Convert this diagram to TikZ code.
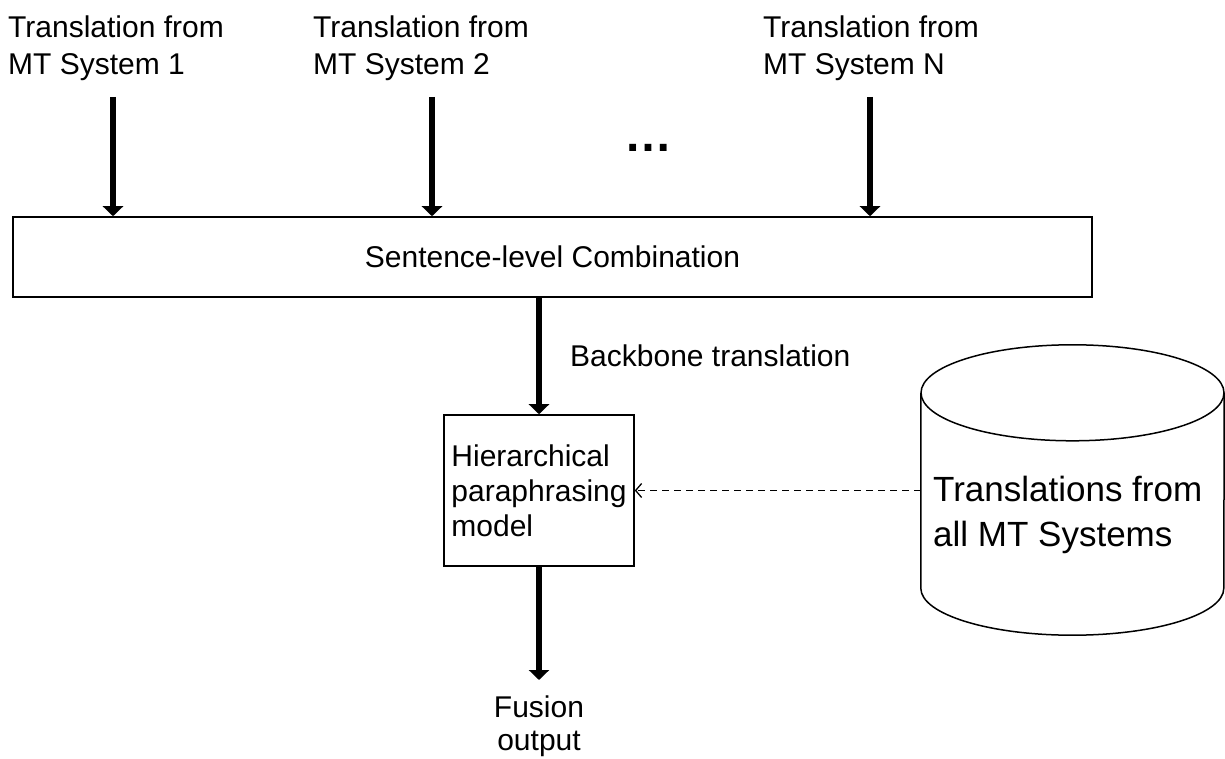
\documentclass[tikz,border=0pt]{standalone}
\usepackage{fontspec}
\setmainfont{Liberation Sans}
\usetikzlibrary{arrows.meta}
\begin{document}
\begin{tikzpicture}[x=1pt,y=1pt,
  lbl/.style={inner sep=0pt, align=left, font=\fontsize{30}{37}\selectfont},
  boxed/.style={draw, line width=1.5pt, inner sep=0pt},
  flow/.style={line width=6pt, -{Triangle[width=20pt,length=10pt]}},
  feed/.style={line width=1.3pt, dash pattern=on 7pt off 5pt, -{Straight Barb[length=6pt,width=14pt]}},
  outline/.style={line width=1.5pt},
]
\useasboundingbox (0,0) rectangle (1225,758);

% inputs from the individual systems
\node[lbl, anchor=west] (t1) at (8, 709.5) {Translation from\\MT System 1};
\node[lbl, anchor=west] (t2) at (313, 709.5) {Translation from\\MT System 2};
\node[lbl, anchor=west] (tN) at (763, 709.5) {Translation from\\MT System N};
\node[inner sep=0pt, font=\fontsize{48}{48}\selectfont\bfseries] (dots) at (648, 610) {…};

% sentence-level stage
\node[boxed, minimum width=1079pt, minimum height=80pt,
      font=\fontsize{30}{37}\selectfont] (sent) at (552.5, 501) {Sentence-level Combination};

\coordinate (s1) at (113, 661);
\coordinate (s2) at (432, 661);
\coordinate (sN) at (870, 661);
\draw[flow] (s1) -- (s1 |- sent.north);
\draw[flow] (s2) -- (s2 |- sent.north);
\draw[flow] (sN) -- (sN |- sent.north);

% paraphrasing stage
\node[boxed, minimum width=190pt, minimum height=151pt, align=left,
      font=\fontsize{30}{35}\selectfont] (hier) at (539, 267.5) {Hierarchical\\paraphrasing\\model};
\draw[flow] (hier.north |- sent.south) -- (hier.north);
\node[lbl, anchor=base west] (bb) at (570, 391) {Backbone translation};

% output
\node[inner sep=0pt, align=center, font=\fontsize{30}{33}\selectfont, anchor=north] (fus) at (539, 62.5) {Fusion\\output};
\coordinate (fo) at (539, 78);
\draw[flow] (hier.south) -- (fo);

% database of all translations
\node[minimum width=303pt, minimum height=195pt, inner sep=0pt] (db) at (1072.5, 267.5) {};
\draw[outline] (db.north) ellipse [x radius=151.5pt, y radius=48pt];
\draw[outline] (db.north west) -- (db.south west)
  arc [start angle=180, end angle=360, x radius=151.5pt, y radius=47pt] -- (db.north east);
\node[inner sep=0pt, align=left, font=\fontsize{35}{45}\selectfont, anchor=west] (dbt) at (933, 243) {Translations from\\all MT Systems};

\draw[feed] (db.west) -- (hier.east);
\end{tikzpicture}
\end{document}
